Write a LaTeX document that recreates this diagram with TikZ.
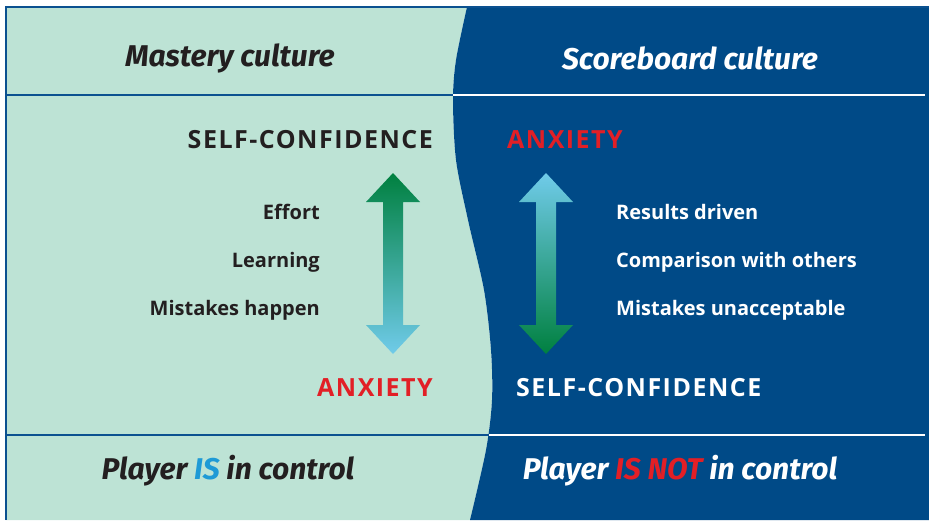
\documentclass[tikz,border=0pt]{standalone}
\usepackage{fontspec}
\usepackage{tikz}
\setmainfont{Open Sans}
\newfontfamily\headfont{Fira Sans}
\newfontfamily\capsfont[LetterSpace=6]{Open Sans}

\definecolor{mint}{HTML}{BDE3D5}
\definecolor{navy}{HTML}{004A87}
\definecolor{framec}{HTML}{0B5190}
\definecolor{alarm}{HTML}{E21F26}
\definecolor{skyis}{HTML}{1E9AD6}
\definecolor{ink}{HTML}{231F20}
\definecolor{darkgreen}{HTML}{00803F}
\definecolor{midteal}{HTML}{009A7E}
\definecolor{lightsky}{HTML}{70CBEA}

\tikzset{
  headtext/.style={font=\headfont\bfseries\itshape\fontsize{30}{30}\selectfont, inner sep=0pt},
  bigcaps/.style={font=\capsfont\bfseries\fontsize{25}{25}\selectfont, inner sep=0pt},
  smalltext/.style={font=\bfseries\fontsize{20}{20}\selectfont, inner sep=0pt},
}

\begin{document}
\begin{tikzpicture}[x=1pt,y=-1pt]
\useasboundingbox (0,0) rectangle (929,520);
% two halves
\fill[mint] (6,7) -- plot[smooth] coordinates {(467,7) (456,60) (453,100) (456,160) (468,220) (484,290) (491,350) (492,400) (486,450) (470,520)} -- (6,520) -- cycle;
\fill[navy] (929,7) -- plot[smooth] coordinates {(467,7) (456,60) (453,100) (456,160) (468,220) (484,290) (491,350) (492,400) (486,450) (470,520)} -- (929,520) -- cycle;
% frame
\draw[framec, line width=2pt] (6,520) -- (6,7) -- (929,7);
\draw[framec, line width=2pt] (6,95) -- (453,95);
\draw[white, line width=2pt] (453,95) -- (925,95);
\draw[framec, line width=2pt] (6,435) -- (489,435);
\draw[white, line width=2pt] (489,435) -- (925,435);

% headings
\node[headtext, text=ink] (mastery) at (230,58) {Mastery culture};
\node[headtext, text=white] (scoreboard) at (690,58) {Scoreboard culture};

\node[bigcaps, text=ink, anchor=base east] (leftconf) at (433,148) {SELF-CONFIDENCE};
\node[bigcaps, text=alarm, anchor=base west] (rightanx) at (507,148) {ANXIETY};
\node[bigcaps, text=alarm, anchor=base east] (leftanx) at (433,396) {ANXIETY};
\node[bigcaps, text=white, anchor=base west] (rightconf) at (516,396) {SELF-CONFIDENCE};

\node[smalltext, text=ink, anchor=base east] (effort) at (320,219) {Effort};
\node[smalltext, text=ink, anchor=base east] (learning) at (320,267) {Learning};
\node[smalltext, text=ink, anchor=base east] (mistakes) at (320,315) {Mistakes happen};
\node[smalltext, text=white, anchor=base west] (results) at (616,219) {Results driven};
\node[smalltext, text=white, anchor=base west] (comparison) at (616,267) {Comparison with others};
\node[smalltext, text=white, anchor=base west] (unacceptable) at (616,315) {Mistakes unacceptable};

% arrows
\shade[top color=darkgreen, middle color=midteal, bottom color=lightsky]
  (393,173) -- (420,202) -- (403,202) -- (403,325) -- (420,325) -- (393,354)
  -- (366,325) -- (383,325) -- (383,202) -- (366,202) -- cycle;
\shade[top color=lightsky, middle color=midteal, bottom color=darkgreen]
  (546,173) -- (573,202) -- (556,202) -- (556,325) -- (573,325) -- (546,354)
  -- (519,325) -- (536,325) -- (536,202) -- (519,202) -- cycle;

\node[headtext, text=ink] (iscontrol) at (228,471) {Player \textcolor{skyis}{IS} in control};
\node[headtext, text=white] (notcontrol) at (680,471) {Player \textcolor{alarm}{IS NOT} in control};
\end{tikzpicture}
\end{document}
